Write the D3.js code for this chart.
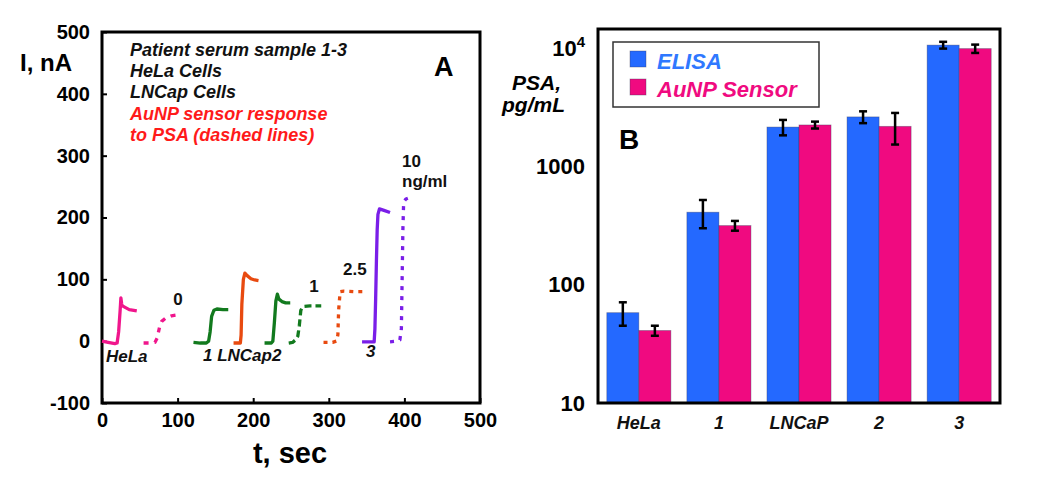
<!DOCTYPE html>
<html>
<head>
<meta charset="utf-8">
<script src="https://cdn.jsdelivr.net/npm/d3@7"></script>
<style>
  html, body { margin: 0; padding: 0; background: #ffffff; }
  svg { display: block; font-family: "Liberation Sans", Arial, sans-serif; }
</style>
</head>
<body>
<svg id="chart" width="1050" height="480"></svg>
<script>
// ---------------- Panel A data (time traces) ----------------
const xTicksA = [0, 100, 200, 300, 400, 500];
const yTicksA = [-100, 0, 100, 200, 300, 400, 500];

const helaT = [0, 8, 17, 20, 22, 24, 25, 26, 27, 30, 36, 46];
const helaI = [0, -2, -4, -3, 15, 50, 70, 60, 57, 55, 51, 49];

const psa0T = [55, 62, 70, 73, 76, 79, 84, 92, 103];
const psa0I = [-3, -3, -2, 5, 22, 32, 37, 41, 43];

const sample1T = [121, 130, 138, 141, 143, 145, 148, 152, 160, 167];
const sample1I = [-2, -3, -3, 0, 15, 40, 50, 52, 51, 51];

const lncapT = [174, 183, 184, 185, 187, 189, 192, 197, 202, 207];
const lncapI = [-3, -3, 10, 60, 100, 110, 106, 101, 99, 98];

const sample2T = [215, 224, 226, 228, 230, 232, 234, 238, 243, 249];
const sample2I = [-3, -3, 0, 30, 65, 76, 68, 64, 62, 62];

const psa1T = [247, 252, 256, 259, 261, 263, 266, 275, 290];
const psa1I = [-3, -2, 2, 8, 25, 50, 56, 57, 57];

const psa25T = [293, 305, 310, 312, 313, 315, 320, 333, 345];
const psa25I = [-2, -2, 0, 10, 50, 80, 81, 80, 80];

const sample3T = [344, 352, 360, 361, 362, 363, 364, 365, 367, 372, 381];
const sample3I = [-1, -1, -1, 20, 70, 130, 180, 205, 214, 212, 208];

const psa10T = [381, 390, 394, 396, 397, 398, 399, 402, 411];
const psa10I = [-1, 0, 2, 20, 100, 180, 225, 230, 234];

// ---------------- Panel B data (bars) ----------------
const categories = ["HeLa", "1", "LNCaP", "2", "3"];
const seriesNames = ["ELISA", "AuNP Sensor"];
const elisaValues = [58, 410, 2150, 2620, 10600];
const elisaErrors = [13, 110, 320, 300, 700];
const aunpValues = [41, 316, 2240, 2180, 9900];
const aunpErrors = [4, 30, 150, 650, 800];
const yTicksB = [10, 100, 1000, 10000];

// ---------------- Drawing ----------------
const svg = d3.select("#chart");
const FONT = '"Liberation Sans", Arial, sans-serif';

// ===== Panel A =====
const xA = d3.scaleLinear().domain([0, 500]).range([102, 480]);
const yA = d3.scaleLinear().domain([-100, 500]).range([403, 32]);

const gA = svg.append("g");

const axLeftA = gA.append("g")
  .attr("transform", `translate(${xA(0)},0)`)
  .call(d3.axisLeft(yA).tickValues(yTicksA).tickSize(-5).tickPadding(12).tickFormat(d => String(d)));
const axBottomA = gA.append("g")
  .attr("transform", `translate(0,${yA(-100)})`)
  .call(d3.axisBottom(xA).tickValues(xTicksA).tickSize(-5).tickPadding(10).tickFormat(d => String(d)));

[axLeftA, axBottomA].forEach(ax => {
  ax.select(".domain").remove();
  ax.selectAll(".tick line").attr("stroke", "#000").attr("stroke-width", 2);
  ax.selectAll(".tick text")
    .attr("fill", "#000")
    .style("font-family", FONT)
    .style("font-size", "20px")
    .style("font-weight", "bold");
});

gA.append("rect")
  .attr("x", xA(0)).attr("y", yA(500))
  .attr("width", xA(500) - xA(0)).attr("height", yA(-100) - yA(500))
  .attr("fill", "none").attr("stroke", "#000").attr("stroke-width", 3);

const traces = [
  { t: helaT, i: helaI, color: "#f0168c", dash: null },
  { t: psa0T, i: psa0I, color: "#f0168c", dash: "5,6" },
  { t: sample1T, i: sample1I, color: "#127a1e", dash: null },
  { t: lncapT, i: lncapI, color: "#e84a10", dash: null },
  { t: sample2T, i: sample2I, color: "#127a1e", dash: null },
  { t: psa1T, i: psa1I, color: "#127a1e", dash: "7,4" },
  { t: psa25T, i: psa25I, color: "#e84a10", dash: "4,5" },
  { t: sample3T, i: sample3I, color: "#7a1ee8", dash: null },
  { t: psa10T, i: psa10I, color: "#7a1ee8", dash: "4,6" }
];

const lineA = d3.line().x(d => xA(d[0])).y(d => yA(d[1]));

traces.forEach(tr => {
  const pts = tr.t.map((t, k) => [t, tr.i[k]]);
  gA.append("path")
    .attr("d", lineA(pts))
    .attr("fill", "none")
    .attr("stroke", tr.color)
    .attr("stroke-width", 3.3)
    .attr("stroke-linejoin", "round")
    .attr("stroke-dasharray", tr.dash);
});

// axis titles
gA.append("text").attr("x", 20).attr("y", 71)
  .style("font-size", "24px").style("font-weight", "bold").text("I, nA");
gA.append("text").attr("x", 290).attr("y", 463).attr("text-anchor", "middle")
  .style("font-size", "29px").style("font-weight", "bold").text("t, sec");

// annotation block
const notes = [
  { text: "Patient serum sample 1-3", y: 56, color: "#111" },
  { text: "HeLa Cells", y: 77, color: "#111" },
  { text: "LNCap Cells", y: 98, color: "#111" },
  { text: "AuNP sensor response", y: 120, color: "#ff1a1a" },
  { text: "to PSA (dashed lines)", y: 141, color: "#ff1a1a" }
];
notes.forEach(n => {
  gA.append("text").attr("x", 130).attr("y", n.y)
    .attr("fill", n.color)
    .style("font-size", "18px").style("font-weight", "bold").style("font-style", "italic")
    .text(n.text);
});
gA.append("text").attr("x", 434).attr("y", 76)
  .style("font-size", "27px").style("font-weight", "bold").text("A");

// trace labels
const traceLabels = [
  { text: "HeLa", x: 106, y: 362, italic: true, anchor: "start" },
  { text: "0", x: 178, y: 305, italic: false, anchor: "middle" },
  { text: "1 LNCap2", x: 203, y: 361, italic: true, anchor: "start" },
  { text: "1", x: 314, y: 292, italic: false, anchor: "middle" },
  { text: "2.5", x: 343, y: 275, italic: false, anchor: "start" },
  { text: "3", x: 366, y: 357, italic: true, anchor: "start" },
  { text: "10", x: 402, y: 167, italic: false, anchor: "start" },
  { text: "ng/ml", x: 402, y: 187, italic: false, anchor: "start" }
];
traceLabels.forEach(l => {
  gA.append("text").attr("x", l.x).attr("y", l.y).attr("text-anchor", l.anchor)
    .attr("fill", "#111")
    .style("font-size", "17px").style("font-weight", "bold")
    .style("font-style", l.italic ? "italic" : "normal")
    .text(l.text);
});

// ===== Panel B =====
const xB = d3.scaleBand().domain(categories).range([598, 1000]).paddingInner(0.2).paddingOuter(0.11);
const xSub = d3.scaleBand().domain(seriesNames).range([0, xB.bandwidth()]).padding(0);
const yB = d3.scaleLog().domain([10, 14500]).range([403, 29]);
const colorB = d3.scaleOrdinal().domain(seriesNames).range(["#2469ff", "#f00a80"]);

const gB = svg.append("g");

const barData = [];
categories.forEach((c, k) => {
  barData.push({ cat: c, series: "ELISA", v: elisaValues[k], e: elisaErrors[k] });
  barData.push({ cat: c, series: "AuNP Sensor", v: aunpValues[k], e: aunpErrors[k] });
});

gB.selectAll("rect.bar").data(barData).enter().append("rect")
  .attr("class", "bar")
  .attr("x", d => xB(d.cat) + xSub(d.series))
  .attr("y", d => yB(d.v))
  .attr("width", xSub.bandwidth())
  .attr("height", d => yB(10) - yB(d.v))
  .attr("fill", d => colorB(d.series))
  .attr("stroke", "rgba(60,60,90,0.45)")
  .attr("stroke-width", 0.8);

// error bars
const errG = gB.selectAll("g.err").data(barData).enter().append("g").attr("class", "err");
errG.each(function(d) {
  const g = d3.select(this);
  const cx = xB(d.cat) + xSub(d.series) + xSub.bandwidth() / 2;
  const yTop = yB(d.v + d.e), yBot = yB(d.v - d.e);
  g.append("line").attr("x1", cx).attr("x2", cx).attr("y1", yTop).attr("y2", yBot)
    .attr("stroke", "#000").attr("stroke-width", 2.5);
  [yTop, yBot].forEach(yy => {
    g.append("line").attr("x1", cx - 4).attr("x2", cx + 4).attr("y1", yy).attr("y2", yy)
      .attr("stroke", "#000").attr("stroke-width", 2.5);
  });
});

// frame
gB.append("rect")
  .attr("x", 598).attr("y", yB(14500))
  .attr("width", 402).attr("height", yB(10) - yB(14500))
  .attr("fill", "none").attr("stroke", "#000").attr("stroke-width", 3);

// y axis labels
const axLeftB = gB.append("g")
  .attr("transform", "translate(598,0)")
  .call(d3.axisLeft(yB).tickValues(yTicksB).tickSize(0).tickPadding(13).tickFormat(d => d === 10000 ? "" : String(d)));
axLeftB.select(".domain").remove();
axLeftB.selectAll(".tick text")
  .attr("fill", "#000")
  .style("font-family", FONT).style("font-size", "22px").style("font-weight", "bold");
axLeftB.selectAll(".tick").filter(d => d === 10000).select("text")
  .call(t => {
    t.append("tspan").text("10");
    t.append("tspan").attr("dy", "-0.55em").style("font-size", "15px").text("4");
  });

// x category labels
const axBottomB = gB.append("g")
  .attr("transform", "translate(0,403)")
  .call(d3.axisBottom(xB).tickSize(0).tickPadding(13));
axBottomB.select(".domain").remove();
axBottomB.selectAll(".tick text")
  .attr("fill", "#111")
  .style("font-family", FONT).style("font-size", "18px")
  .style("font-weight", "bold").style("font-style", "italic");

// y axis title
gB.append("text").attr("x", 512).attr("y", 90)
  .style("font-size", "21px").style("font-weight", "bold").style("font-style", "italic").text("PSA,");
gB.append("text").attr("x", 502).attr("y", 112)
  .style("font-size", "21px").style("font-weight", "bold").style("font-style", "italic").text("pg/mL");

// panel letter
gB.append("text").attr("x", 619).attr("y", 149)
  .style("font-size", "28px").style("font-weight", "bold").text("B");

// legend
const leg = gB.append("g");
leg.append("rect").attr("x", 613).attr("y", 42).attr("width", 206).attr("height", 65)
  .attr("fill", "#fff").attr("stroke", "#333").attr("stroke-width", 1.5);
seriesNames.forEach((s, k) => {
  leg.append("rect").attr("x", 630).attr("y", 51 + k * 28).attr("width", 16).attr("height", 16)
    .attr("fill", colorB(s)).attr("stroke", "rgba(60,60,90,0.45)").attr("stroke-width", 0.8);
  leg.append("text").attr("x", 657).attr("y", 69 + k * 28)
    .attr("fill", k === 0 ? "#2f78ff" : "#f00a80")
    .style("font-size", "22px").style("font-weight", "bold").style("font-style", "italic")
    .text(s);
});
</script>
</body>
</html>
